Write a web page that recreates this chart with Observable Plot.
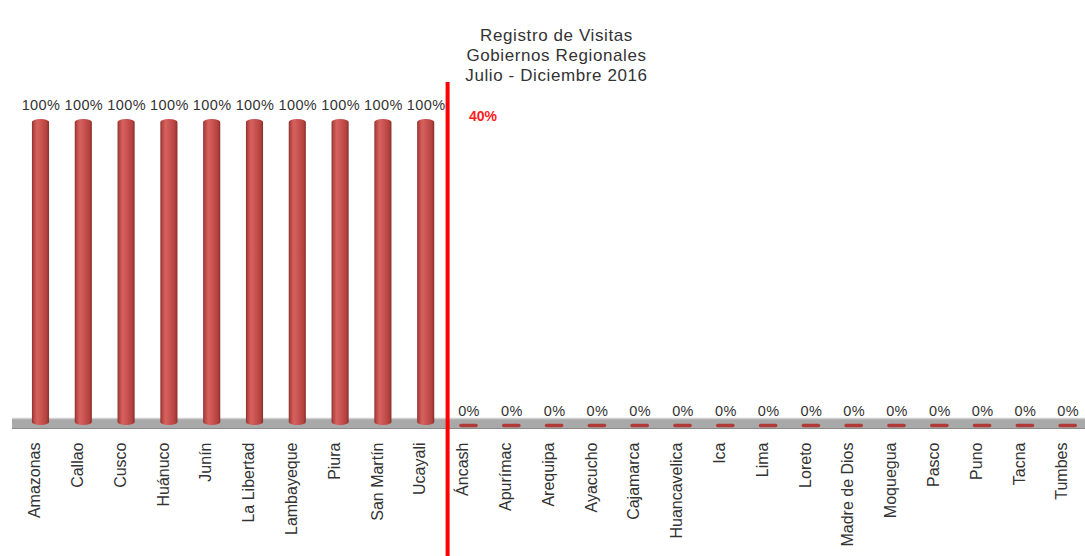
<!DOCTYPE html>
<html>
<head>
<meta charset="utf-8">
<script src="https://cdn.jsdelivr.net/npm/d3@7"></script>
<script src="https://cdn.jsdelivr.net/npm/@observablehq/plot@0.6"></script>
<style>
  html, body { margin: 0; padding: 0; background: #fff; }
  #chart svg { display: block; }
</style>
</head>
<body>
<div id="chart"></div>
<script>
// ---- data ----
const regions = ["Amazonas","Callao","Cusco","Huánuco","Junín","La Libertad","Lambayeque","Piura","San Martín","Ucayali",
  "Áncash","Apurímac","Arequipa","Ayacucho","Cajamarca","Huancavelica","Ica","Lima","Loreto","Madre de Dios","Moquegua","Pasco","Puno","Tacna","Tumbes"];
const visits = [100,100,100,100,100,100,100,100,100,100, 0,0,0,0,0,0,0,0,0,0,0,0,0,0,0];
const titleLines = ["Registro de Visitas", "Gobiernos Regionales", "Julio - Diciembre 2016"];
const shareLabel = "40%";
const splitAfter = "Ucayali";

const data = regions.map((r, i) => ({region: r, value: visits[i], label: visits[i] + "%"}));
const firstZero = data.find(d => d.value === 0).region;

const W = 1085, H = 556;
const step = 42.8;
const x0 = 19.1;
const font = "Arial, 'Liberation Sans', sans-serif";

const chart = Plot.plot({
  width: W, height: H,
  marginLeft: 12, marginRight: 0, marginTop: 82, marginBottom: 0,
  style: {fontFamily: font, background: "#fff", overflow: "visible"},
  x: {type: "band", domain: regions, range: [x0, x0 + step * regions.length], paddingInner: 0.6, paddingOuter: 0.3, round: false, axis: null},
  y: {domain: [0, 100], range: [425, 119], axis: null},
  marks: [
    // floor
    Plot.ruleY([0], {stroke: "#a9a9a9", strokeWidth: 10, dy: -2}),
    Plot.ruleY([0], {stroke: "#d0d0d0", strokeWidth: 1.5, dy: -7}),
    Plot.ruleY([0], {stroke: "#8c8c8c", strokeWidth: 1, dy: 3}),
    // zero-height cylinders (flat disks)
    Plot.tickY(data.filter(d => d.value === 0), {x: "region", y: "value", stroke: "#b03a37", strokeWidth: 3.5, strokeLinecap: "round", inset: 1}),
    // cylinders
    Plot.barY(data.filter(d => d.value > 0), {x: "region", y: "value", fill: "url(#cyl)", rx: 8, ry: 3}),
    // value labels
    Plot.text(data, {x: "region", y: "value", text: "label", dy: -14, fontSize: 14.5, fill: "#333"}),
    // category labels
    Plot.text(data, {x: "region", y: 0, text: "region", rotate: -90, textAnchor: "end", dy: 17, dx: -6, fontSize: 16, fill: "#333"}),
    // separator
    Plot.ruleX([splitAfter], {x: d => d, dx: step / 2, stroke: "#ff0000", strokeWidth: 4}),
    Plot.text([shareLabel], {x: () => firstZero, y: 100, text: d => d, textAnchor: "start", dx: 0, dy: -2.5, fontSize: 14, fontWeight: "bold", fill: "#ff2020"}),
    // title
    Plot.text([titleLines.join("\n")], {frameAnchor: "top", text: d => d, lineAnchor: "middle", dx: 7.5, dy: -27.5, fontSize: 17, lineHeight: 1.18, fill: "#333"})
  ]
});

const defs = d3.select(chart).insert("defs", ":first-child");
const g = defs.append("linearGradient").attr("id", "cyl").attr("x1", "0%").attr("x2", "100%").attr("y1", "0%").attr("y2", "0%");
[[0, "#8e302d"], [0.12, "#b84946"], [0.3, "#d6625e"], [0.55, "#c95350"], [0.85, "#b3423f"], [1, "#8a2e2b"]]
  .forEach(([o, c]) => g.append("stop").attr("offset", o).attr("stop-color", c));

// slightly wider lettering, as in the original
const textGroups = d3.select(chart).selectAll("g[aria-label=text]").nodes();
d3.select(textGroups[textGroups.length - 1]).attr("letter-spacing", "0.6px");
d3.select(textGroups[0]).attr("letter-spacing", "0.4px");

document.getElementById("chart").appendChild(chart);
</script>
</body>
</html>
